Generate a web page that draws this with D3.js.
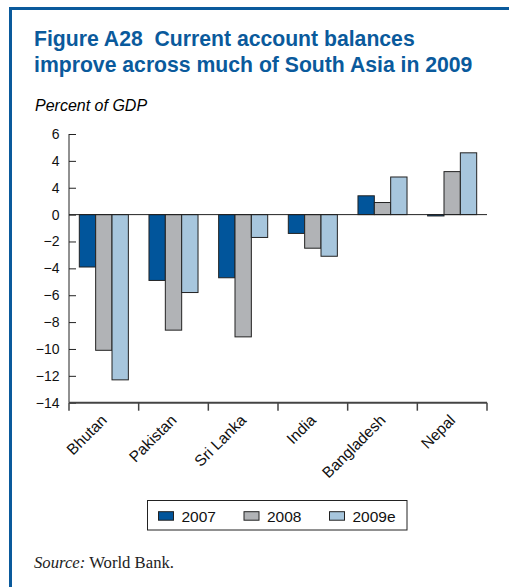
<!DOCTYPE html>
<meta charset="utf-8">
<title>Current account balances</title>
<script src="https://d3js.org/d3.v7.min.js"></script>
<style>
body { margin: 0; background: #fff; }
text { font-family: "Liberation Sans", Arial, sans-serif; }
</style>
<div id="chart"></div>
<script>
// Data
const countries = ["Bhutan", "Pakistan", "Sri Lanka", "India", "Bangladesh", "Nepal"];
const years = ["2007", "2008", "2009e"];
const v2007 = [-3.9, -4.9, -4.7, -1.4, 1.4, -0.1];
const v2008 = [-10.1, -8.6, -9.1, -2.5, 0.9, 3.2];
const v2009 = [-12.3, -5.8, -1.7, -3.1, 2.8, 4.6];
const yTicks = [6, 4, 2, 0, -2, -4, -6, -8, -10, -12, -14];
// the printed figure labels the 2 tick as "4"
const yTickLabels = ["6", "4", "4", "0", "\u22122", "\u22124", "\u22126", "\u22128", "\u221210", "\u221212", "\u221214"];
const colors = ["#01559b", "#b1b3b6", "#a7c6dd"];

const W = 509, H = 587;
const blue = "#0a5a9c";
const series = [v2007, v2008, v2009];

const svg = d3.select("#chart").append("svg")
    .attr("width", W).attr("height", H);

// frame
svg.append("rect").attr("x", 9).attr("y", 7).attr("width", W - 9).attr("height", 3).attr("fill", blue);
svg.append("rect").attr("x", 9).attr("y", 7).attr("width", 3).attr("height", H - 7).attr("fill", blue);

// title
const title = svg.append("text")
    .attr("x", 34).attr("y", 46)
    .attr("fill", blue)
    .style("white-space", "pre")
    .style("font-weight", "bold")
    .style("font-size", "21.2px");
title.append("tspan").attr("x", 34).text("Figure A28  Current account balances");
title.append("tspan").attr("x", 34).attr("dy", 25.5).text("improve across much of South Asia in 2009");

svg.append("text")
    .attr("x", 35).attr("y", 111)
    .style("font-style", "italic")
    .style("font-size", "16px")
    .text("Percent of GDP");

const pLeft = 69, pRight = 487, pTop = 134, pBottom = 402.7;

const y = d3.scaleLinear().domain([-14, 6]).range([pBottom, pTop]);
const x = d3.scaleBand().domain(countries).range([pLeft, pRight]).paddingOuter(0).paddingInner(0);
const xs = d3.scaleBand().domain(years).range([x.bandwidth() * 0.148, x.bandwidth() * 0.852]);

// y axis
const yAxis = svg.append("g")
    .attr("transform", `translate(${pLeft},0)`)
    .call(d3.axisRight(y).tickValues(yTicks).tickSize(7).tickFormat((d, i) => yTickLabels[i]));
yAxis.select(".domain").attr("stroke", "#222").attr("d", `M0,${pTop}V${pBottom}`);
yAxis.selectAll(".tick line").attr("stroke", "#222");
yAxis.selectAll(".tick text")
    .attr("x", -9.5).attr("text-anchor", "end")
    .style("font-size", "14px").attr("fill", "#111");

// bars
const groups = svg.append("g").selectAll("g")
    .data(countries).join("g")
    .attr("transform", d => `translate(${x(d)},0)`);

groups.selectAll("rect")
    .data((c, i) => years.map((yr, j) => ({ yr, v: series[j][i], j })))
    .join("rect")
    .attr("x", d => xs(d.yr))
    .attr("width", xs.bandwidth())
    .attr("y", d => y(Math.max(0, d.v)))
    .attr("height", d => Math.abs(y(d.v) - y(0)))
    .attr("fill", d => colors[d.j])
    .attr("stroke", "#222")
    .attr("stroke-width", 1);

// zero line
svg.append("line")
    .attr("x1", pLeft).attr("x2", pRight)
    .attr("y1", y(0)).attr("y2", y(0))
    .attr("stroke", "#222").attr("stroke-width", 1);

// x axis
const xAxis = svg.append("g")
    .attr("transform", `translate(0,${pBottom})`)
    .call(d3.axisBottom(x).tickSize(0).tickFormat(""));
xAxis.select(".domain").attr("stroke", "#444").attr("stroke-width", 2).attr("d", `M${pLeft},0H${pRight}`);

const xTickPos = countries.map(c => x(c)).concat([pRight]);
xAxis.selectAll(".sep").data(xTickPos).join("line")
    .attr("class", "sep")
    .attr("x1", d => d).attr("x2", d => d)
    .attr("y1", 0).attr("y2", 8)
    .attr("stroke", "#444").attr("stroke-width", 1.5);

svg.append("g").selectAll("text")
    .data(countries).join("text")
    .attr("transform", d => `translate(${x(d) + x.bandwidth() / 2 + 4},${pBottom + 18.5}) rotate(-45)`)
    .attr("text-anchor", "end")
    .style("font-size", "15.5px")
    .attr("fill", "#111")
    .text(d => d);

// legend
const lg = svg.append("g");
lg.append("rect")
    .attr("x", 147.5).attr("y", 500.5).attr("width", 259.5).attr("height", 29.5)
    .attr("fill", "none").attr("stroke", "#222").attr("stroke-width", 1);
const legX = [158.5, 244, 329.5];
const items = lg.selectAll("g.item").data(years).join("g")
    .attr("class", "item")
    .attr("transform", (d, i) => `translate(${legX[i]},511.7)`);
items.append("rect")
    .attr("width", 15).attr("height", 8.5)
    .attr("fill", (d, i) => colors[i])
    .attr("stroke", "#222").attr("stroke-width", 1);
items.append("text")
    .attr("x", 23).attr("y", 10.6)
    .style("font-size", "15.5px")
    .attr("fill", "#111")
    .text(d => d);

// source
const src = svg.append("text")
    .attr("x", 34).attr("y", 568)
    .style("font-size", "16.7px")
    .attr("fill", "#222");
src.append("tspan").style("font-style", "italic").style("font-family", "'Liberation Serif', serif").text("Source:");
src.append("tspan").style("font-family", "'Liberation Serif', serif").text(" World Bank.");
</script>
